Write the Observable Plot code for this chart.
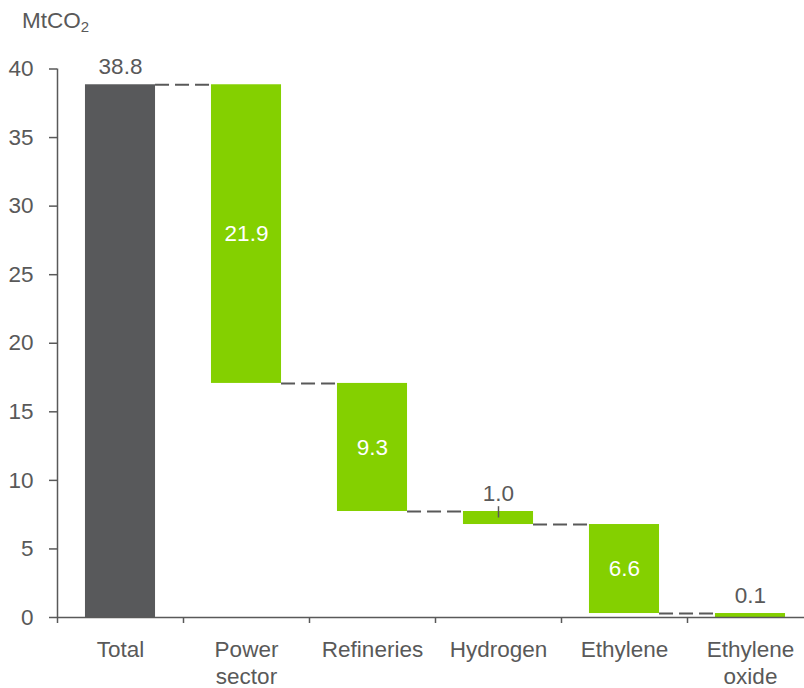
<!DOCTYPE html>
<html><head><meta charset="utf-8">
<script src="https://cdn.jsdelivr.net/npm/d3@7"></script>
<script src="https://cdn.jsdelivr.net/npm/@observablehq/plot@0.6"></script>
<style>
body{margin:0;background:#fff;font-family:"Liberation Sans",Arial,sans-serif;}
#wrap{position:relative;width:804px;height:688px;overflow:hidden;background:#fff}
#title{position:absolute;left:22px;top:8px;font-size:22.5px;color:#595959;line-height:26px}
#title sub{font-size:15px;vertical-align:-4px;line-height:0}
#chart{position:absolute;left:0;top:44px}
</style></head><body>
<div id="wrap"><div id="title">MtCO<sub>2</sub></div><div id="chart"></div></div>
<script>
// data
const categories = ["Total", "Power\nsector", "Refineries", "Hydrogen", "Ethylene", "Ethylene\noxide"];
const values = [38.8, 21.9, 9.3, 1.0, 6.6, 0.1];
// running level after each category (bar edges)
const levels = [38.85, 17.07, 7.73, 6.78, 0.29, 0];
const isTotal = [true, false, false, false, false, false];
const yTicks = [0, 5, 10, 15, 20, 25, 30, 35, 40];

const dark = "#58595b", green = "#84d000", grey = "#595959";
const half = 0.278;
const FS = 22.5;

const bars = categories.map((c, i) => ({
  i, c, v: values[i], total: isTotal[i],
  lo: isTotal[i] ? 0 : levels[i],
  hi: isTotal[i] ? levels[i] : levels[i - 1]
}));
const inside = bars.filter(b => !b.total && b.v >= 5);
const above = bars.filter(b => b.total || b.v < 5);
const connectors = bars.slice(0, -1).map(b => ({i: b.i, y: levels[b.i]}));
const leaders = above.filter(b => !b.total && b.i < bars.length - 1);

const W = 804, H = 644;
const chart = Plot.plot({
  width: W, height: H,
  marginLeft: 57, marginRight: -9, marginTop: 24.5, marginBottom: 71,
  style: {fontFamily: "Liberation Sans, Arial, sans-serif", fontSize: FS + "px", color: grey, background: "#fff", overflow: "visible"},
  x: {type: "linear", domain: [0, categories.length]},
  y: {domain: [0, 40]},
  marks: [
    Plot.rectY(bars, {x1: d => d.i + 0.5 - half, x2: d => d.i + 0.5 + half, y1: "lo", y2: "hi", fill: d => d.total ? dark : green}),
    Plot.ruleY(connectors, {x1: d => d.i + 0.5 + half, x2: d => d.i + 1.5 - half, y: "y", stroke: grey, strokeWidth: 2, strokeDasharray: "14,6"}),
    Plot.ruleX(leaders, {x: d => d.i + 0.5, y1: d => (d.lo + d.hi) / 2, y2: d => d.hi + 0.35, stroke: grey, strokeWidth: 1.5}),
    Plot.text(inside, {x: d => d.i + 0.5, y: d => (d.lo + d.hi) / 2, text: d => d.v.toFixed(1), fill: "white", fontSize: FS}),
    Plot.text(above, {x: d => d.i + 0.5, y: "hi", text: d => d.v.toFixed(1), fill: grey, fontSize: FS, lineAnchor: "bottom", dy: -11}),
    Plot.ruleY([0], {stroke: grey, strokeWidth: 1.5}),
    Plot.ruleX([0], {y1: 0, y2: 40, stroke: grey, strokeWidth: 1.5}),
    Plot.axisY({ticks: yTicks, tickSize: 8, tickPadding: 16, fontSize: FS, stroke: grey, strokeWidth: 1.5, label: null}),
    Plot.axisX({ticks: d3.range(categories.length + 1), tickSize: 6, tickFormat: () => "", stroke: grey, strokeWidth: 1.5, label: null}),
    Plot.text(categories, {x: (d, i) => i + 0.5, y: 0, text: d => d, dy: 20, lineAnchor: "top", lineHeight: 1.22, fontSize: FS, fill: grey})
  ]
});
document.getElementById("chart").appendChild(chart);
</script>
</body></html>
